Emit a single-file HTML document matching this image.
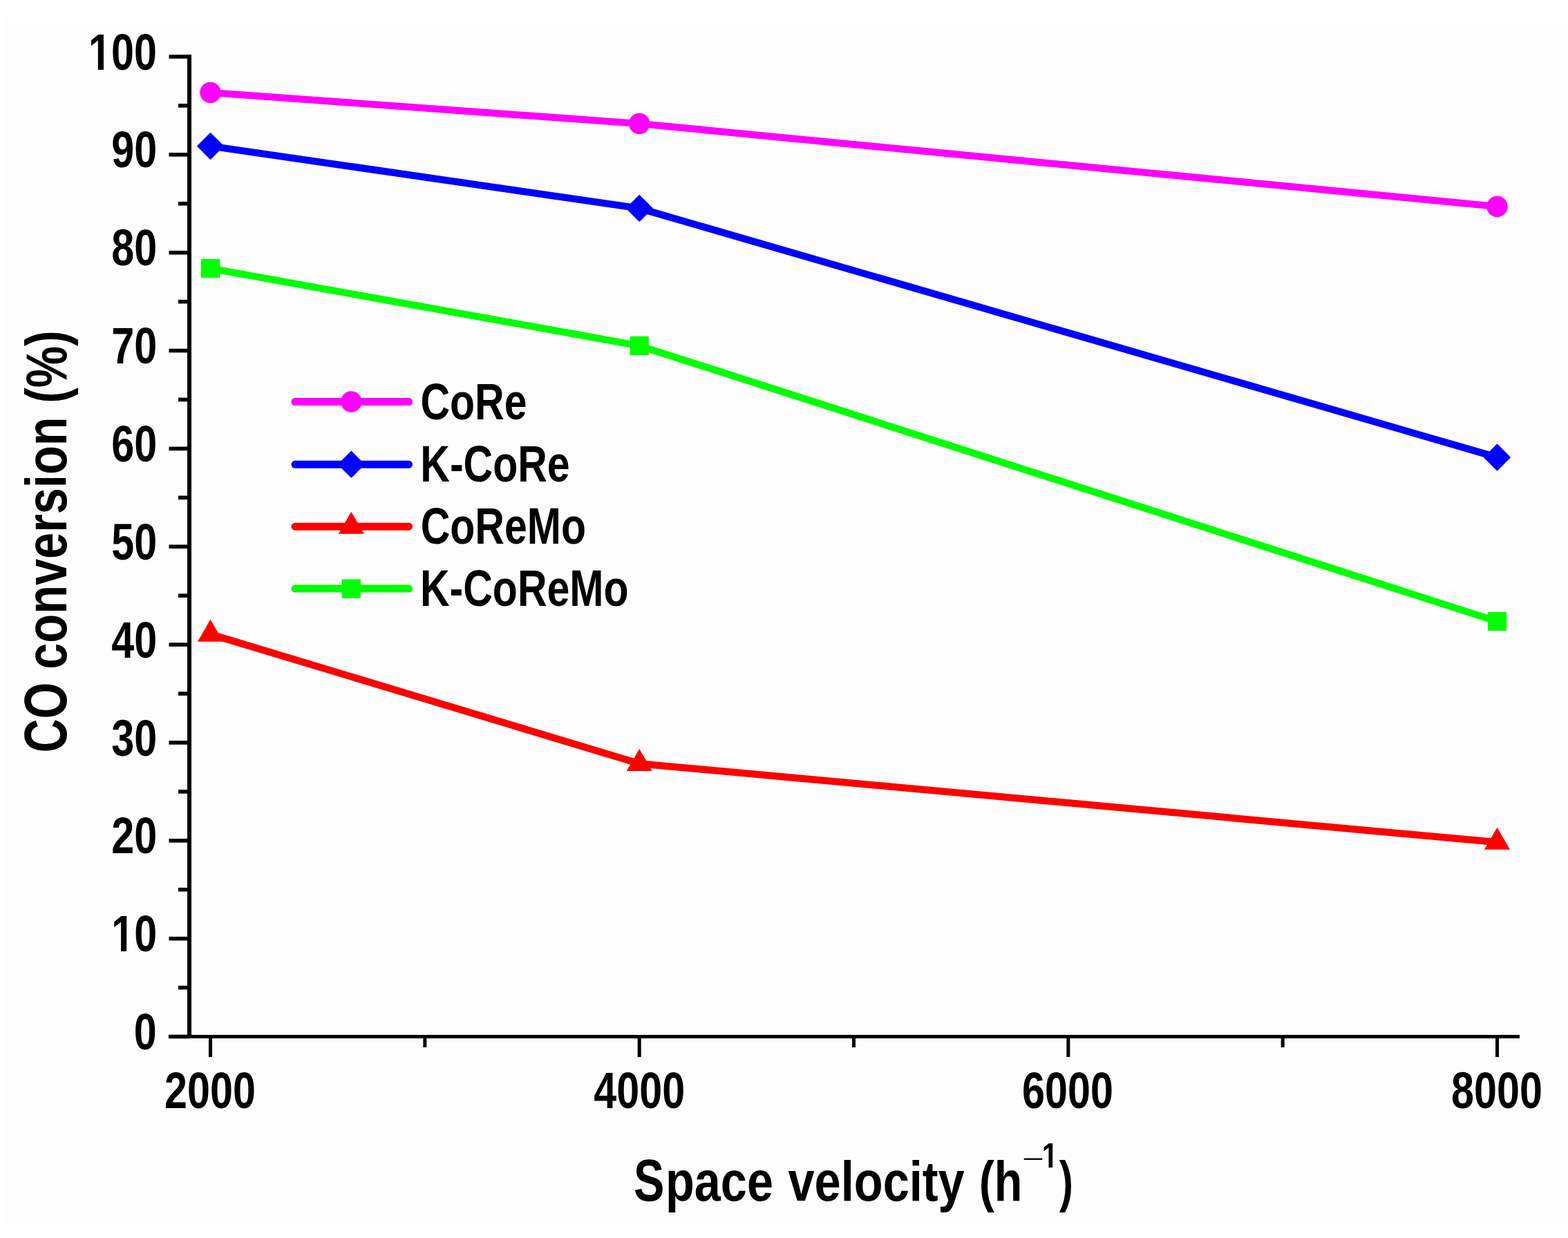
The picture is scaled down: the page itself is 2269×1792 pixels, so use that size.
<!DOCTYPE html><html><head><meta charset="utf-8"><title>CO conversion vs space velocity</title>
<style>html,body{margin:0;padding:0;background:#fff;width:2269px;height:1792px;overflow:hidden}svg{display:block}</style></head><body>
<svg width="2269" height="1792" viewBox="0 0 2269 1792">
<rect x="0" y="0" width="2269" height="1792" fill="#ffffff"/>
<rect x="7" y="25" width="2262" height="1748" fill="#fdfdfd"/>
<rect x="271" y="79" width="6" height="1424" fill="#000"/>
<rect x="244" y="1498" width="1955" height="5" fill="#000"/>
<rect x="244.5" y="1497.70" width="30" height="5.6" fill="#000"/>
<rect x="244.5" y="1355.85" width="30" height="5.6" fill="#000"/>
<rect x="244.5" y="1214.00" width="30" height="5.6" fill="#000"/>
<rect x="244.5" y="1072.15" width="30" height="5.6" fill="#000"/>
<rect x="244.5" y="930.30" width="30" height="5.6" fill="#000"/>
<rect x="244.5" y="788.45" width="30" height="5.6" fill="#000"/>
<rect x="244.5" y="646.60" width="30" height="5.6" fill="#000"/>
<rect x="244.5" y="504.75" width="30" height="5.6" fill="#000"/>
<rect x="244.5" y="362.90" width="30" height="5.6" fill="#000"/>
<rect x="244.5" y="221.05" width="30" height="5.6" fill="#000"/>
<rect x="244.5" y="79.20" width="30" height="5.6" fill="#000"/>
<rect x="258" y="1426.78" width="16" height="5.6" fill="#000"/>
<rect x="258" y="1284.92" width="16" height="5.6" fill="#000"/>
<rect x="258" y="1143.08" width="16" height="5.6" fill="#000"/>
<rect x="258" y="1001.23" width="16" height="5.6" fill="#000"/>
<rect x="258" y="859.38" width="16" height="5.6" fill="#000"/>
<rect x="258" y="717.52" width="16" height="5.6" fill="#000"/>
<rect x="258" y="575.68" width="16" height="5.6" fill="#000"/>
<rect x="258" y="433.82" width="16" height="5.6" fill="#000"/>
<rect x="258" y="291.97" width="16" height="5.6" fill="#000"/>
<rect x="258" y="150.12" width="16" height="5.6" fill="#000"/>
<rect x="302.00" y="1500" width="5" height="30" fill="#000"/>
<rect x="922.67" y="1500" width="5" height="30" fill="#000"/>
<rect x="1543.34" y="1500" width="5" height="30" fill="#000"/>
<rect x="2164.01" y="1500" width="5" height="30" fill="#000"/>
<rect x="612.34" y="1500" width="5" height="16" fill="#000"/>
<rect x="1233.00" y="1500" width="5" height="16" fill="#000"/>
<rect x="1853.67" y="1500" width="5" height="16" fill="#000"/>
<polyline points="304.50,134.00 925.20,179.00 2166.50,299.00" fill="none" stroke="#ff00ff" stroke-width="10.2" stroke-linejoin="round"/>
<circle cx="304.50" cy="134.00" r="15.2" fill="#ff00ff"/>
<circle cx="925.20" cy="179.00" r="15.2" fill="#ff00ff"/>
<circle cx="2166.50" cy="299.00" r="15.2" fill="#ff00ff"/>
<polyline points="304.50,211.50 925.20,301.50 2166.50,662.00" fill="none" stroke="#0000ff" stroke-width="10.2" stroke-linejoin="round"/>
<polygon points="304.50,191.80 324.20,211.50 304.50,231.20 284.80,211.50" fill="#0000ff"/>
<polygon points="925.20,281.80 944.90,301.50 925.20,321.20 905.50,301.50" fill="#0000ff"/>
<polygon points="2166.50,642.30 2186.20,662.00 2166.50,681.70 2146.80,662.00" fill="#0000ff"/>
<polyline points="304.50,918.00 925.20,1105.30 2166.50,1219.20" fill="none" stroke="#ff0000" stroke-width="10.2" stroke-linejoin="round"/>
<polygon points="304.50,896.67 323.00,928.67 286.00,928.67" fill="#ff0000"/>
<polygon points="925.20,1083.97 943.70,1115.97 906.70,1115.97" fill="#ff0000"/>
<polygon points="2166.50,1197.87 2185.00,1229.87 2148.00,1229.87" fill="#ff0000"/>
<polyline points="304.50,388.50 925.20,500.50 2166.50,899.50" fill="none" stroke="#00ff00" stroke-width="10.2" stroke-linejoin="round"/>
<rect x="290.90" y="374.90" width="27.20" height="27.20" fill="#00ff00"/>
<rect x="911.60" y="486.90" width="27.20" height="27.20" fill="#00ff00"/>
<rect x="2152.90" y="885.90" width="27.20" height="27.20" fill="#00ff00"/>
<line x1="427" y1="581.50" x2="591.5" y2="581.50" stroke="#ff00ff" stroke-width="11" stroke-linecap="round"/>
<circle cx="508.30" cy="581.50" r="15.2" fill="#ff00ff"/>
<line x1="427" y1="672.30" x2="591.5" y2="672.30" stroke="#0000ff" stroke-width="11" stroke-linecap="round"/>
<polygon points="508.30,652.60 528.00,672.30 508.30,692.00 488.60,672.30" fill="#0000ff"/>
<line x1="427" y1="762.20" x2="591.5" y2="762.20" stroke="#ff0000" stroke-width="11" stroke-linecap="round"/>
<polygon points="508.30,740.87 526.80,772.87 489.80,772.87" fill="#ff0000"/>
<line x1="427" y1="852.10" x2="591.5" y2="852.10" stroke="#00ff00" stroke-width="11" stroke-linecap="round"/>
<rect x="494.70" y="838.50" width="27.20" height="27.20" fill="#00ff00"/>
<g font-family="Liberation Sans, Arial, sans-serif" font-weight="bold" fill="#000">
<g transform="translate(608.44 607.00) scale(0.8030 1)"><text font-size="73.50">CoRe</text></g>
<g transform="translate(608.27 696.80) scale(0.8030 1)"><text font-size="73.50">K-CoRe</text></g>
<g transform="translate(608.64 787.20) scale(0.8030 1)"><text font-size="73.50">CoReMo</text></g>
<g transform="translate(607.97 876.90) scale(0.8030 1)"><text font-size="73.50">K-CoReMo</text></g>
<g transform="translate(193.79 1519.10) scale(0.8060 1)"><text font-size="73.50">0</text></g>
<g transform="translate(161.21 1377.25) scale(0.8060 1)"><text font-size="73.50">10</text><rect x="3.23" y="-9.00" width="13.92" height="10.10" fill="#fdfdfd"/><rect x="27.24" y="-9.00" width="12.60" height="10.10" fill="#fdfdfd"/></g>
<g transform="translate(161.21 1235.40) scale(0.8060 1)"><text font-size="73.50">20</text></g>
<g transform="translate(161.21 1093.55) scale(0.8060 1)"><text font-size="73.50">30</text></g>
<g transform="translate(161.21 951.70) scale(0.8060 1)"><text font-size="73.50">40</text></g>
<g transform="translate(161.21 809.85) scale(0.8060 1)"><text font-size="73.50">50</text></g>
<g transform="translate(161.21 668.00) scale(0.8060 1)"><text font-size="73.50">60</text></g>
<g transform="translate(161.21 526.15) scale(0.8060 1)"><text font-size="73.50">70</text></g>
<g transform="translate(161.21 384.30) scale(0.8060 1)"><text font-size="73.50">80</text></g>
<g transform="translate(161.21 242.45) scale(0.8060 1)"><text font-size="73.50">90</text></g>
<g transform="translate(128.04 100.60) scale(0.8060 1)"><text font-size="73.50">100</text><rect x="3.23" y="-9.00" width="13.92" height="10.10" fill="#fdfdfd"/><rect x="27.24" y="-9.00" width="12.60" height="10.10" fill="#fdfdfd"/></g>
<g transform="translate(238.04 1604.10) scale(0.8060 1)"><text font-size="73.50">2000</text></g>
<g transform="translate(859.30 1604.10) scale(0.8060 1)"><text font-size="73.50">4000</text></g>
<g transform="translate(1479.08 1604.10) scale(0.8060 1)"><text font-size="73.50">6000</text></g>
<g transform="translate(2100.05 1604.10) scale(0.8060 1)"><text font-size="73.50">8000</text></g>
<g transform="translate(916.90 1738.00) scale(0.7770 1)"><text font-size="85.60">S</text></g>
<g transform="translate(963.12 1738.00) scale(0.8386 1)"><text font-size="81.50">pace</text></g>
<g transform="translate(1140.50 1738.00) scale(0.8463 1)"><text font-size="81.00">velocity</text></g>
<g transform="translate(1416.68 1738.00) scale(0.8196 1)"><text font-size="81.00">(h</text></g>
<g transform="translate(1532.80 1738.00) scale(0.7496 1)"><text font-size="81.00">)</text></g>
<g transform="translate(1507.75 1690.0) scale(0.8260 1)"><text font-size="50.50">1</text><rect x="18.72" y="-6.65" width="9.86" height="7.75" fill="#fdfdfd"/></g>
<rect x="1508.97" y="1683.35" width="8.51" height="7.75" fill="#fdfdfd"/>
</g>
<g font-family="Liberation Sans, Arial, sans-serif" font-weight="normal" fill="#000">
<g transform="translate(1479.28 1689.00) scale(1.6000 1)"><text font-size="34.00">−</text></g>
</g>
<g font-family="Liberation Sans, Arial, sans-serif" font-weight="bold" fill="#000">
<text transform="translate(96.30 1089.52) rotate(-90) scale(0.7740 1)" font-size="87.70">CO</text>
<text transform="translate(96.30 968.74) rotate(-90) scale(0.8250 1)" font-size="83.00">conversion</text>
<text transform="translate(96.30 583.69) rotate(-90) scale(0.8160 1)" font-size="83.00">(%)</text>
</g>
</svg></body></html>
